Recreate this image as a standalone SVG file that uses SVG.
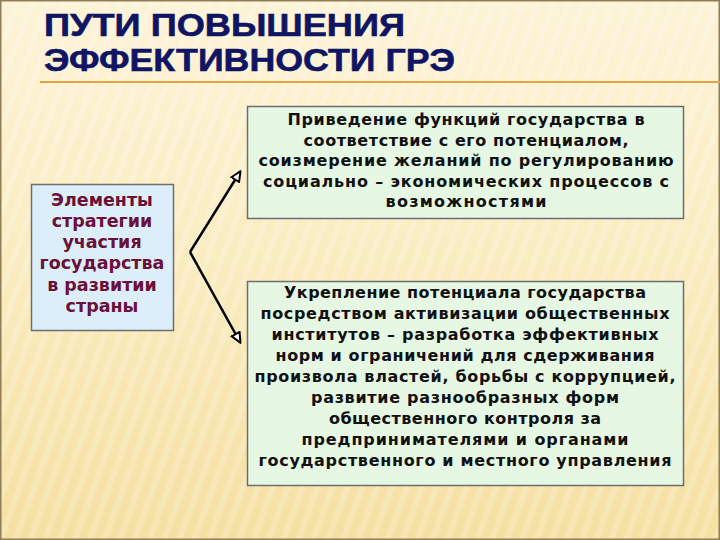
<svg xmlns="http://www.w3.org/2000/svg" width="720" height="540" viewBox="0 0 720 540">
<defs>
<linearGradient id="bg" x1="0" y1="0" x2="0" y2="1">
<stop offset="0" stop-color="#fdf3d8"/>
<stop offset="0.5" stop-color="#faecc0"/>
<stop offset="1" stop-color="#f5e0a2"/>
</linearGradient>
<pattern id="stripes" width="14" height="14" patternUnits="userSpaceOnUse" patternTransform="rotate(20)">
<rect width="6" height="14" fill="#ffffff" opacity="0.18"/>
</pattern>
<marker id="arr" viewBox="0 0 12 12" refX="10" refY="6" markerWidth="12" markerHeight="12" markerUnits="userSpaceOnUse" orient="auto">
<path d="M1,1.5 L11,6 L1,10.5 Z" fill="#ffffff" stroke="#000" stroke-width="2" stroke-linejoin="miter"/>
</marker>
</defs>
<style>
.title{font-family:"Liberation Sans",Arial,sans-serif;font-weight:bold;font-size:32px;fill:#0f1463;stroke:#0f1463;stroke-width:0.6}
.lt{font-family:"DejaVu Sans",Verdana,sans-serif;font-weight:bold;font-size:17.5px;fill:#6b1038;text-anchor:middle}
.rt{font-family:"DejaVu Sans",Verdana,sans-serif;font-weight:bold;font-size:16px;fill:#111;text-anchor:middle}
.box{stroke:#6e6e6e;stroke-width:1.5}
.conn{fill:none;stroke:#000;stroke-width:2.5}
</style>
<rect x="0" y="0" width="720" height="540" fill="url(#bg)"/>
<rect x="0" y="0" width="720" height="540" fill="url(#stripes)"/>
<rect x="0.75" y="0.75" width="718.5" height="538.5" fill="none" stroke="#8f7d55" stroke-width="1.5"/>
<g id="title">
<text class="title" x="44" y="36" textLength="361" lengthAdjust="spacingAndGlyphs">ПУТИ ПОВЫШЕНИЯ</text>
<text class="title" x="44" y="71" textLength="411" lengthAdjust="spacingAndGlyphs">ЭФФЕКТИВНОСТИ ГРЭ</text>
<line x1="40" y1="82" x2="720" y2="82" stroke="#e3a544" stroke-width="2"/>
</g>
<g id="node-left">
<rect class="box" x="31.5" y="184.5" width="142" height="146" fill="#dbeefa"/>
<text class="lt" x="102" y="206">Элементы</text>
<text class="lt" x="102" y="227">стратегии</text>
<text class="lt" x="102" y="248">участия</text>
<text class="lt" x="102" y="269">государства</text>
<text class="lt" x="102" y="291">в развитии</text>
<text class="lt" x="102" y="312">страны</text>
</g>
<g id="node-top">
<rect class="box" x="247.5" y="106.5" width="436" height="112" fill="#e6f7e4"/>
<text class="rt" x="466" y="125" textLength="357" lengthAdjust="spacing">Приведение функций государства в</text>
<text class="rt" x="466" y="145.5" textLength="325" lengthAdjust="spacing">соответствие с его потенциалом,</text>
<text class="rt" x="466" y="166" textLength="415" lengthAdjust="spacing">соизмерение желаний по регулированию</text>
<text class="rt" x="466" y="186.5" textLength="406" lengthAdjust="spacing">социально – экономических процессов с</text>
<text class="rt" x="466" y="207" textLength="161" lengthAdjust="spacing">возможностями</text>
</g>
<g id="node-bottom">
<rect class="box" x="247.5" y="281.5" width="436" height="204" fill="#e6f7e4"/>
<text class="rt" x="465" y="298" textLength="362" lengthAdjust="spacing">Укрепление потенциала государства</text>
<text class="rt" x="465" y="319" textLength="409" lengthAdjust="spacing">посредством активизации общественных</text>
<text class="rt" x="465" y="340" textLength="387" lengthAdjust="spacing">институтов – разработка эффективных</text>
<text class="rt" x="465" y="361" textLength="379" lengthAdjust="spacing">норм и ограничений для сдерживания</text>
<text class="rt" x="465" y="382" textLength="421" lengthAdjust="spacing">произвола властей, борьбы с коррупцией,</text>
<text class="rt" x="465" y="402.5" textLength="308" lengthAdjust="spacing">развитие разнообразных форм</text>
<text class="rt" x="465" y="423.5" textLength="272" lengthAdjust="spacing">общественного контроля за</text>
<text class="rt" x="465" y="444.5" textLength="327" lengthAdjust="spacing">предпринимателями и органами</text>
<text class="rt" x="465" y="465.5" textLength="413" lengthAdjust="spacing">государственного и местного управления</text>
</g>
<g id="connectors">
<path class="conn" d="M190,252 L240,172" marker-end="url(#arr)"/>
<path class="conn" d="M190,252 L240,342" marker-end="url(#arr)"/>
</g>
</svg>
